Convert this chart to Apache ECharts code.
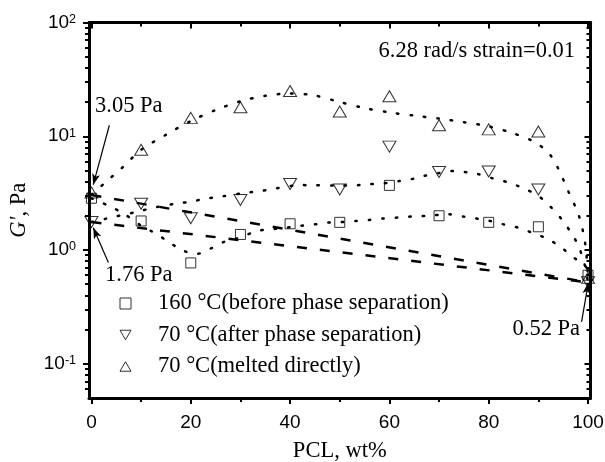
<!DOCTYPE html>
<html><head><meta charset="utf-8">
<script src="https://cdn.jsdelivr.net/npm/echarts@6/dist/echarts.min.js"></script>
<style>html,body{margin:0;padding:0;background:#fff}#c{width:605px;height:462px}</style>
</head><body><div id="c"></div>
<script>
// ---- data ----
const pcl = [0, 10, 20, 30, 40, 50, 60, 70, 80, 90, 100];
const g160 = [2.85, 1.8, 0.77, 1.37, 1.7, 1.75, 3.7, 2.0, 1.75, 1.6, 0.6];
const g70after = [1.76, 2.55, 1.9, 2.75, 3.8, 3.4, 8.1, 4.85, 4.9, 3.4, 0.52];
const g70melt = [3.2, 7.6, 14.5, 18, 25, 16.5, 22.5, 12.5, 11.5, 11, 0.57];

// dotted guide curves
const fitMeltX = [0, 3, 6, 10, 15, 20, 25, 30, 35, 40, 45, 50, 55, 60, 65, 70, 75, 80, 85, 89, 92, 94, 96, 98, 99, 99.6, 100];
const fitMeltY = [3.05, 4.0, 5.2, 7.6, 10.3, 13.6, 17.0, 20.3, 22.7, 23.8, 22.8, 20.0, 17.7, 16.2, 15.2, 14.3, 13.3, 12.2, 10.6, 9.0, 7.2, 5.2, 3.3, 2.1, 1.45, 1.0, 0.57];
const fitAfterX = [0, 3, 9, 13, 17, 20, 23, 26, 31.5, 34, 37, 42, 45, 50, 53, 56, 59, 62, 65, 67, 70, 73, 76, 78, 81, 84, 87, 90, 92.4, 94.7, 96.8, 98.1, 99.3, 100];
const fitAfterY = [1.76, 1.89, 2.16, 2.38, 2.56, 2.66, 2.83, 2.95, 3.2, 3.3, 3.47, 3.72, 3.71, 3.68, 3.7, 3.79, 3.86, 4.04, 4.24, 4.48, 4.75, 4.95, 4.79, 4.63, 4.24, 3.92, 3.49, 2.99, 2.41, 1.86, 1.37, 1.08, 0.75, 0.52];
const fit160X = [0, 3.5, 6.5, 9.6, 12.6, 15.3, 18, 21, 24, 26.7, 28.7, 33.5, 36.2, 39.2, 41.9, 44.9, 47.6, 50.4, 53.3, 56, 58.7, 61.8, 64.6, 67.1, 71.9, 74.9, 77.6, 80.3, 83, 86, 88.7, 91.7, 94.4, 97.1, 99.5, 100];
const fit160Y = [2.85, 2.44, 2.09, 1.68, 1.42, 1.2, 1.01, 0.92, 1.03, 1.18, 1.24, 1.47, 1.52, 1.57, 1.63, 1.68, 1.74, 1.76, 1.8, 1.84, 1.89, 1.93, 1.97, 1.99, 2.06, 1.97, 1.89, 1.8, 1.68, 1.57, 1.42, 1.26, 1.07, 0.86, 0.72, 0.6];

// dashed mixing-rule lines
const mixX = [0, 100];
const mixUpperY = [3.05, 0.52];
const mixLowerY = [1.76, 0.52];

// axis ticks
const xMajorTicks = [0, 20, 40, 60, 80, 100];
const xMinorTicks = [10, 30, 50, 70, 90];
const yMajorTicks = [0.1, 1, 10, 100];
const yMinorTicks = [0.06, 0.07, 0.08, 0.09, 0.2, 0.3, 0.4, 0.5, 0.6, 0.7, 0.8, 0.9,
  2, 3, 4, 5, 6, 7, 8, 9, 20, 30, 40, 50, 60, 70, 80, 90];

const names = ['160 °C(before phase separation)', '70 °C(after phase separation)', '70 °C(melted directly)'];

const SERIF = "'Liberation Serif','Times New Roman',serif";
const SANS = "'Liberation Sans',Arial,sans-serif";
const zip = (xs, ys) => xs.map((x, i) => [x, ys[i]]);

const X_MIN = -0.5, X_MAX = 100.5, Y_MIN = 0.05, Y_MAX = 100;

function xAx(pos, ticks, len, inside, line, label) {
  const a = {
    type: 'value', position: pos, min: X_MIN, max: X_MAX,
    splitLine: { show: false },
    axisLine: { show: line, onZero: false, lineStyle: { color: '#000', width: 3 } },
    axisTick: { show: true, inside: inside, length: len, customValues: ticks, lineStyle: { color: '#000', width: 2 } },
    axisLabel: { show: false }
  };
  if (label) {
    a.axisLabel = { show: true, customValues: ticks, margin: 15, color: '#000', fontFamily: SANS, fontSize: 19 };
    a.name = 'PCL, wt%';
    a.nameLocation = 'middle';
    a.nameGap = 42;
    a.nameTextStyle = { fontFamily: SERIF, fontSize: 22.5, color: '#000' };
  }
  return a;
}
function yAx(pos, ticks, len, inside, line, label) {
  const a = {
    type: 'log', logBase: 10, position: pos, min: Y_MIN, max: Y_MAX,
    splitLine: { show: false }, minorTick: { show: false },
    axisLine: { show: line, onZero: false, lineStyle: { color: '#000', width: 3 } },
    axisTick: { show: true, inside: inside, length: len, customValues: ticks, lineStyle: { color: '#000', width: 2 } },
    axisLabel: { show: false }
  };
  if (label) {
    a.axisLabel = {
      show: true, customValues: ticks, margin: 13,
      formatter: v => '{b|10}{s|' + Math.round(Math.log10(v)) + '}',
      rich: {
        b: { fontFamily: SANS, fontSize: 19, color: '#000' },
        s: { fontFamily: SANS, fontSize: 12.5, color: '#000', verticalAlign: 'top' }
      }
    };
    a.name = "{i|G'}{n|, Pa}";
    a.nameLocation = 'middle';
    a.nameGap = 58;
    a.nameTextStyle = {
      rich: {
        i: { fontFamily: SERIF, fontSize: 22.5, fontStyle: 'italic', color: '#000' },
        n: { fontFamily: SERIF, fontSize: 22.5, color: '#000' }
      }
    };
  }
  return a;
}

const markerStyle = { color: 'transparent', borderColor: '#000', borderWidth: 1 };
const dotted = { color: '#000', width: 2.5, type: [1.5, 12], cap: 'round' };
const dashed = { color: '#000', width: 2.5, type: [10, 13] };

const arrowLines = {
  silent: true, animation: false,
  symbol: ['none', 'arrow'], symbolSize: [6, 11],
  label: { show: false },
  lineStyle: { color: '#000', width: 1.2, type: 'solid' },
  data: [
    [{ coord: [3.6, 12.5] }, { coord: [0.36, 3.75] }],
    [{ coord: [3.4, 0.775] }, { coord: [0.36, 1.57] }],
    [{ coord: [98.7, 0.233] }, { coord: [100.06, 0.515] }]
  ]
};

const chart = echarts.init(document.getElementById('c'), null, { renderer: 'canvas' });
chart.setOption({
  animation: false,
  backgroundColor: '#fff',
  grid: { left: 89, right: 14.5, top: 22.5, bottom: 64, containLabel: false, outerBoundsMode: 'none' },
  xAxis: [
    xAx('bottom', xMajorTicks, 6, false, true, true),
    xAx('bottom', xMinorTicks, 4, false, false, false),
    xAx('top', xMajorTicks, 6, true, true, false),
    xAx('top', xMinorTicks, 4, true, false, false)
  ],
  yAxis: [
    yAx('left', yMajorTicks, 6, false, true, true),
    yAx('left', yMinorTicks, 4, false, false, false),
    yAx('right', yMajorTicks, 6, true, true, false),
    yAx('right', yMinorTicks, 4, true, false, false)
  ],
  legend: {
    orient: 'vertical', left: 114.5, top: 287, itemWidth: 11, itemHeight: 11, itemGap: 8.5,
    data: [
      { name: names[0], icon: 'rect' },
      { name: names[1], icon: 'path://M0,0L10,0L5,8.66Z' },
      { name: names[2], icon: 'path://M5,0L10,8.66L0,8.66Z' }
    ],
    symbolRotate: 0,
    itemStyle: { color: 'transparent', borderColor: '#000', borderWidth: 1 },
    textStyle: { fontFamily: SERIF, fontSize: 22.5, color: '#000', padding: [0, 0, 0, 22] },
    selectedMode: false
  },
  graphic: [
    { type: 'text', style: { text: '3.05 Pa', x: 95, y: 106, textAlign: 'left', textVerticalAlign: 'middle', font: '22.5px ' + SERIF, fill: '#000' } },
    { type: 'text', style: { text: '1.76 Pa', x: 105, y: 275, textAlign: 'left', textVerticalAlign: 'middle', font: '22.5px ' + SERIF, fill: '#000' } },
    { type: 'text', style: { text: '0.52 Pa', x: 580, y: 329, textAlign: 'right', textVerticalAlign: 'middle', font: '22.5px ' + SERIF, fill: '#000' } },
    { type: 'text', style: { text: '6.28 rad/s strain=0.01', x: 575, y: 51, textAlign: 'right', textVerticalAlign: 'middle', font: '22.5px ' + SERIF, fill: '#000' } }
  ],
  series: [
    { type: 'line', data: zip(mixX, mixUpperY), showSymbol: false, symbol: 'none', lineStyle: dashed, z: 2, silent: true },
    { type: 'line', data: zip(mixX, mixLowerY), showSymbol: false, symbol: 'none', lineStyle: dashed, z: 2, silent: true },
    { type: 'line', data: zip(fit160X, fit160Y), showSymbol: false, symbol: 'none', smooth: 0.3, lineStyle: dotted, z: 2, silent: true },
    { type: 'line', data: zip(fitAfterX, fitAfterY), showSymbol: false, symbol: 'none', smooth: 0.3, lineStyle: dotted, z: 2, silent: true },
    { type: 'line', data: zip(fitMeltX, fitMeltY), showSymbol: false, symbol: 'none', smooth: 0.3, lineStyle: dotted, z: 2, silent: true },
    { name: names[0], type: 'scatter', data: zip(pcl, g160), symbol: 'rect', symbolSize: 10, itemStyle: markerStyle, z: 5, markLine: arrowLines },
    { name: names[1], type: 'scatter', data: zip(pcl, g70after), symbol: 'triangle', symbolRotate: 180, symbolSize: [13, 11], itemStyle: markerStyle, z: 5 },
    { name: names[2], type: 'scatter', data: zip(pcl, g70melt), symbol: 'triangle', symbolSize: [13, 11], itemStyle: markerStyle, z: 5 }
  ]
});
</script>
</body></html>
